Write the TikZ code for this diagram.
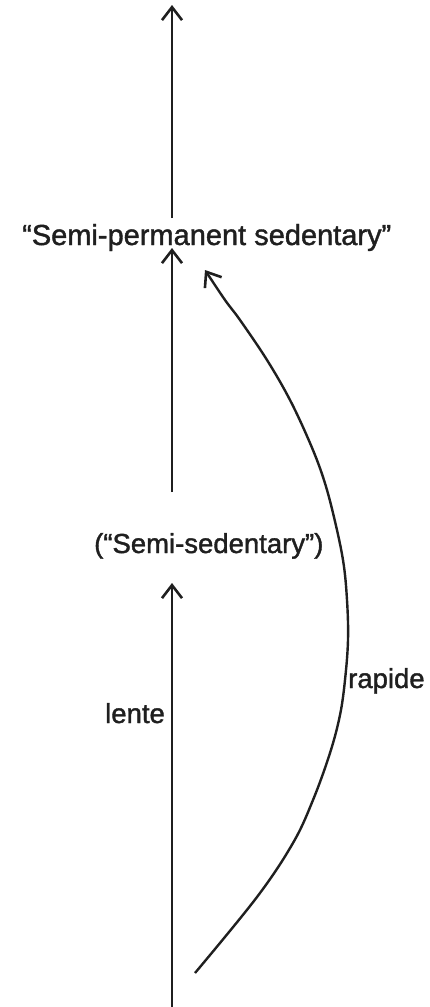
\documentclass[tikz,border=0pt]{standalone}
\usepackage{fontspec}
\setmainfont{Liberation Sans}
\newfontfamily\heavy{Liberation Sans}[FakeBold=1.4]
\usetikzlibrary{arrows.meta}
\tikzset{
  lbl/.style={inner sep=0pt, anchor=base west, font=\heavy\fontsize{29}{32}\selectfont, text=black!88},
  mid/.style={inner sep=0pt, anchor=base west, font=\heavy\fontsize{27.5}{30}\selectfont, text=black!88},
  small/.style={inner sep=0pt, anchor=base west, font=\heavy\fontsize{27.5}{30}\selectfont, text=black!88},
  arr/.style={line width=2.4pt, draw=black!88, -{Straight Barb[length=13pt,width=20pt,line width=2.6pt]}},
}
\begin{document}
\begin{tikzpicture}[x=1pt,y=-1pt]
\useasboundingbox (0,0) rectangle (429,1007);
% labels
\node[lbl] (spn) at (22,245) {“Semi-permanent sedentary”};
\node[mid] (ss) at (94,553) {(“Semi-sedentary”)};
\node[small] (lente) at (105,723) {lente};
\node[small] (rapide) at (348,688) {rapide};
% end points
\coordinate (top) at (172,5);
\coordinate (t1) at (172,218);
\coordinate (m2) at (172,248);
\coordinate (m1) at (172,492);
\coordinate (l2) at (172,583);
\coordinate (bot) at (172,1007);
\coordinate (cs) at (195,973);
\coordinate (ce) at (205,270);
% arrows
\draw[arr] (t1) -- (top);
\draw[arr] (m1) -- (m2);
\draw[arr] (bot) -- (l2);
\draw[arr] plot[smooth, tension=0.6] coordinates {(cs) (257,897) (293,843) (313,800) (330,753) (340,715) (345,680) (348,640) (347,600) (343,560) (333,513) (323,477) (310,443) (290,400) (267,360) (240,320) (225,300) (ce)};
\end{tikzpicture}
\end{document}
